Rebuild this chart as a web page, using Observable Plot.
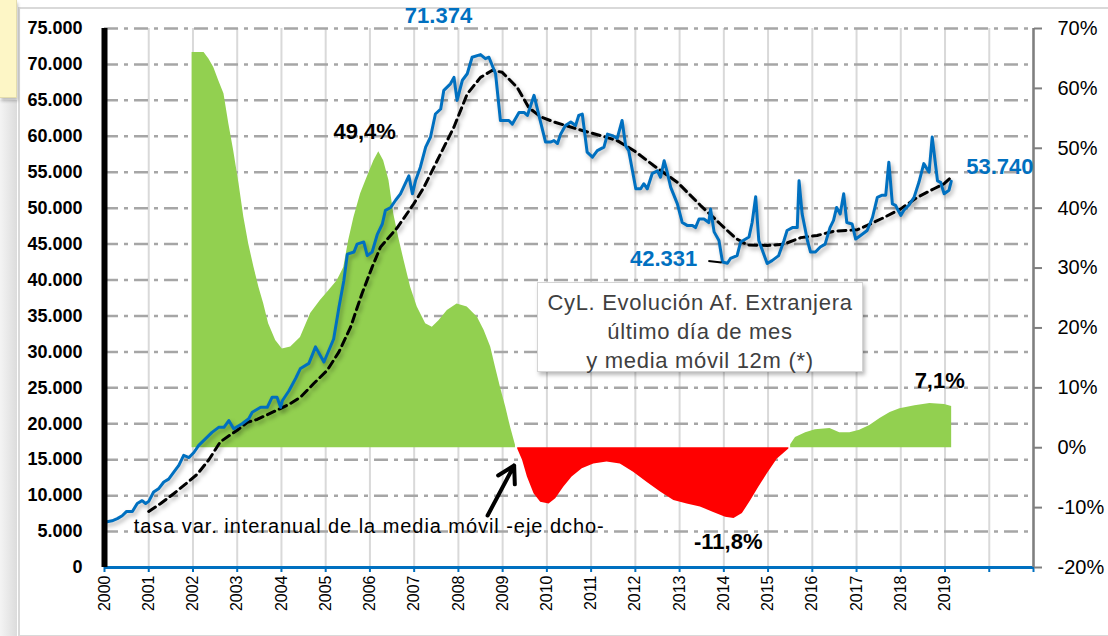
<!DOCTYPE html>
<html>
<head>
<meta charset="utf-8">
<script src="https://cdn.jsdelivr.net/npm/d3@7"></script>
<script src="https://cdn.jsdelivr.net/npm/@observablehq/plot@0.6"></script>
<style>
  body { margin:0; background:#fff; font-family:"Liberation Sans", Arial, sans-serif; }
  #wrap { position:relative; width:1108px; height:636px; overflow:hidden; background:#fff; }
  #yellow { position:absolute; left:0; top:0; width:16px; height:97px; background:#fdf6c6; border-right:1px solid #e3dcae; border-bottom:1px solid #e3dcae; box-shadow:1px 3px 3px rgba(0,0,0,0.25); z-index:3; }
  #strip { position:absolute; left:0; top:100px; width:17px; height:536px; background:linear-gradient(to right,#f4f4f4,#dcdcdc); }
  #frame { position:absolute; left:18px; top:7px; width:1100px; height:626px; border:2px solid #d9d9d9; background:#fff; }
  #chart { position:absolute; left:0; top:0; }
  #note { position:absolute; left:537px; top:282px; width:326px; height:90px; background:#fff; border:1px solid #d4d4d4; box-shadow:2px 3px 4px rgba(0,0,0,0.28); color:#404040; font-size:22px; letter-spacing:0.7px; line-height:29px; text-align:center; padding-top:5px; box-sizing:border-box; z-index:2; white-space:nowrap; }
</style>
</head>
<body>
<div id="wrap">
  <div id="strip"></div>
  <div id="frame"></div>
  <div id="yellow"></div>
  <div id="chart"></div>
  <div id="note">CyL. Evolución Af. Extranjera<br>último día de mes<br>y media móvil 12m (*)</div>
</div>
<script>
// ---- axis ticks ----
const yearTicks = [2000,2001,2002,2003,2004,2005,2006,2007,2008,2009,2010,2011,2012,2013,2014,2015,2016,2017,2018,2019,2020,2021];
const leftTicks = [0,5000,10000,15000,20000,25000,30000,35000,40000,45000,50000,55000,60000,65000,70000,75000];
const pctTicks = [-20,-10,0,10,20,30,40,50,60,70];

// ---- monthly stock, last day of month [year, value] ----
const stockSeries = [
[2000.00,6300],[2000.17,6500],[2000.29,6800],[2000.40,7200],[2000.50,7800],[2000.63,7800],[2000.74,8900],[2000.85,9300],[2000.93,8900],
[2001.00,9200],[2001.11,10500],[2001.23,11000],[2001.34,11900],[2001.45,12300],[2001.57,13300],[2001.68,14200],[2001.79,15600],[2001.91,15300],
[2002.02,16000],[2002.13,17000],[2002.28,17900],[2002.43,18800],[2002.58,19500],[2002.70,19500],[2002.81,20450],[2002.92,19300],
[2003.11,20000],[2003.26,20700],[2003.34,21600],[2003.53,22300],[2003.68,22300],[2003.79,23700],[2003.90,23700],[2003.98,22300],
[2004.02,23200],[2004.17,24600],[2004.32,26300],[2004.43,27700],[2004.62,28400],[2004.77,30700],[2004.96,28600],
[2005.18,31800],[2005.30,36200],[2005.41,39900],[2005.49,43600],[2005.64,43900],[2005.71,45000],[2005.86,45300],[2005.94,43400],
[2006.05,43900],[2006.17,46400],[2006.28,47800],[2006.35,49700],[2006.47,50100],[2006.58,51100],[2006.69,52000],[2006.88,54500],[2006.96,52000],
[2007.03,53800],[2007.14,55700],[2007.26,58500],[2007.37,59900],[2007.48,63100],[2007.60,63800],[2007.67,66400],[2007.82,67300],[2007.90,68200],[2007.97,65000],
[2008.09,67800],[2008.20,68700],[2008.31,71000],[2008.50,71374],[2008.61,70800],[2008.69,71000],[2008.84,68700],[2008.95,62200],
[2009.14,62200],[2009.22,61700],[2009.37,63300],[2009.49,63300],[2009.56,62900],[2009.71,65700],[2009.82,62900],[2009.97,59200],
[2010.08,59200],[2010.16,59400],[2010.24,59000],[2010.31,60300],[2010.42,61500],[2010.54,62000],[2010.65,61500],[2010.72,62900],[2010.80,63100],[2010.91,57800],
[2011.03,57100],[2011.14,58000],[2011.29,58500],[2011.37,60300],[2011.48,60100],[2011.59,59700],[2011.70,62200],[2011.78,58700],[2011.85,58000],
[2012.01,52700],[2012.12,52700],[2012.19,53400],[2012.27,52700],[2012.38,54800],[2012.50,55200],[2012.57,54300],[2012.65,56600],[2012.72,55000],[2012.80,52900],[2012.95,50600],
[2013.06,48000],[2013.17,47600],[2013.29,47600],[2013.36,47300],[2013.44,48500],[2013.55,48500],[2013.66,48000],[2013.70,49900],[2013.78,46700],[2013.89,45500],[2013.97,42500],
[2014.08,42331],[2014.15,43000],[2014.30,43400],[2014.38,45300],[2014.57,46000],[2014.64,48000],[2014.72,51600],[2014.79,45500],[2014.98,42300],
[2015.09,42700],[2015.24,43400],[2015.36,45500],[2015.43,46900],[2015.55,47300],[2015.66,47300],[2015.70,53800],[2015.77,49200],[2015.89,45500],[2015.96,43900],
[2016.07,43900],[2016.18,44600],[2016.29,45000],[2016.40,47300],[2016.48,48300],[2016.55,50100],[2016.63,49200],[2016.71,52000],[2016.78,48000],[2016.90,47800],[2016.98,45700],
[2017.09,46200],[2017.24,46900],[2017.36,48700],[2017.47,51500],[2017.58,51800],[2017.66,51800],[2017.73,56400],[2017.81,50600],[2017.88,50400],
[2018.00,49000],[2018.07,49700],[2018.18,50400],[2018.30,51500],[2018.41,53600],[2018.52,56200],[2018.64,55000],[2018.71,59900],[2018.83,53800],[2018.90,53600],[2018.98,52000],
[2019.09,52500],[2019.14,53740]
];

// ---- 12-month moving average [year, value] ----
const movingAvg = [
[2001.00,7800],[2001.27,8900],[2001.57,10300],[2001.87,11800],[2002.10,13000],[2002.36,15000],[2002.62,17500],
[2003.00,19100],[2003.23,20200],[2003.45,20600],[2003.90,21900],[2004.20,22800],[2004.43,23700],[2004.73,25600],
[2005.03,27400],[2005.30,30000],[2005.56,33400],[2005.82,38100],[2006.05,41800],[2006.24,44600],[2006.62,47300],
[2006.99,50600],[2007.22,52900],[2007.60,57600],[2007.90,61300],[2008.20,65900],[2008.50,68200],[2008.77,69200],
[2008.99,68900],[2009.33,66800],[2009.59,64000],[2009.86,62700],[2010.16,62000],[2010.69,61000],[2011.21,60100],
[2011.59,59400],[2011.97,58000],[2012.42,55900],[2012.95,53600],[2013.47,50400],[2013.92,47800],[2014.27,45800],
[2014.53,44900],[2014.98,44800],[2015.36,45000],[2015.74,45900],[2016.11,46200],[2016.49,46800],[2017.02,47000],
[2017.24,47600],[2017.62,48700],[2018.00,49900],[2018.37,51500],[2018.75,52700],[2018.98,53400],[2019.14,54300]
];

// ---- year-on-year rate of the moving average, % (right axis) ----
const rateRise = [
[2001.98,66.0],[2002.25,66.0],[2002.36,64.9],[2002.47,63.5],[2002.58,61.3],[2002.70,59.1],[2002.81,54.1],[2002.92,49.6],
[2003.04,44.1],[2003.15,38.5],[2003.26,34.0],[2003.38,30.1],[2003.49,26.8],[2003.60,24.0],[2003.71,20.7],[2003.87,17.9],
[2004.02,16.5],[2004.21,16.8],[2004.43,18.4],[2004.66,22.4],[2004.88,24.6],[2005.07,26.2],[2005.26,27.9],[2005.41,30.1],
[2005.52,34.6],[2005.64,38.5],[2005.79,42.4],[2005.94,45.2],[2006.09,47.9],[2006.20,49.4],[2006.31,47.9],[2006.43,44.6],
[2006.54,39.0],[2006.65,35.1],[2006.77,31.3],[2006.92,26.8],[2007.07,23.5],[2007.26,20.7],[2007.41,20.1],[2007.56,21.2],
[2007.75,22.9],[2007.97,24.0],[2008.20,23.5],[2008.43,21.8],[2008.58,19.6],[2008.73,16.8],[2008.84,13.4],[2008.95,10.1],
[2009.07,6.8],[2009.18,3.4],[2009.29,0.4]
];
const rateFall = [
[2009.34,-0.2],[2009.45,-2.1],[2009.56,-4.9],[2009.71,-7.7],[2009.86,-9.1],[2010.05,-9.4],[2010.20,-8.5],[2010.38,-6.6],
[2010.57,-4.9],[2010.80,-3.5],[2011.06,-2.7],[2011.36,-2.4],[2011.66,-2.7],[2011.96,-4.1],[2012.27,-5.8],[2012.57,-7.4],
[2012.87,-8.8],[2013.17,-9.4],[2013.47,-9.9],[2013.77,-10.8],[2014.04,-11.6],[2014.23,-11.8],[2014.42,-11.0],[2014.61,-8.8],
[2014.79,-6.6],[2014.98,-4.4],[2015.21,-1.9],[2015.47,-0.2]
];
const rateRecovery = [
[2015.51,0.5],[2015.62,1.7],[2015.85,2.5],[2016.07,3.0],[2016.40,3.2],[2016.62,2.5],[2016.85,2.5],[2017.07,2.9],
[2017.30,3.7],[2017.53,4.9],[2017.76,5.9],[2017.98,6.5],[2018.32,7.0],[2018.66,7.4],[2018.99,7.2],[2019.15,6.9]
];

const pctMin = pctTicks[0], pctMax = pctTicks[pctTicks.length - 1];
const leftMax = leftTicks[leftTicks.length - 1];
const toLeft = p => (p - pctMin) / (pctMax - pctMin) * leftMax;
const fromLeft = v => Math.round(v / leftMax * (pctMax - pctMin) + pctMin);
const zeroLevel = toLeft(0);
const thousands = v => v === 0 ? "0" : d3.format(",")(v).replace(/,/g, ".");

const blue = "#0070c0";
const font = "Liberation Sans, Arial, sans-serif";
const noteText = "tasa var. interanual de la media móvil -eje dcho-";

const chart = Plot.plot({
  width: 1108, height: 636,
  marginLeft: 104, marginRight: 75, marginTop: 28, marginBottom: 69,
  x: {domain: [yearTicks[0], yearTicks[yearTicks.length - 1]], label: null},
  y: {domain: [leftTicks[0], leftMax], label: null},
  style: {fontFamily: font, background: "transparent", overflow: "visible"},
  marks: [
    Plot.ruleX(yearTicks, {stroke: "#d9d9d9", strokeWidth: 2}),
    Plot.ruleY(leftTicks.slice(1), {stroke: "#a6a6a6", strokeWidth: 2.5, strokeDasharray: "14,6,4,6"}),
    Plot.areaY(rateRise, {x: d => d[0], y1: () => zeroLevel, y2: d => toLeft(d[1]), fill: "#92d050"}),
    Plot.areaY(rateFall, {x: d => d[0], y1: () => zeroLevel, y2: d => toLeft(d[1]), fill: "#ff0000"}),
    Plot.areaY(rateRecovery, {x: d => d[0], y1: () => zeroLevel, y2: d => toLeft(d[1]), fill: "#92d050"}),
    Plot.line(movingAvg, {x: d => d[0], y: d => d[1], stroke: "#000", strokeWidth: 3, strokeDasharray: "8,5"}),
    Plot.line(stockSeries, {x: d => d[0], y: d => d[1], stroke: blue, strokeWidth: 3}),
    // axes
    Plot.axisX(yearTicks, {anchor: "bottom", tickRotate: -90, tickSize: 5, tickPadding: 3, stroke: blue, strokeWidth: 2,
      fill: "#000", fontSize: 16, tickFormat: d => d <= 2019 ? String(d) : ""}),
    Plot.axisY(leftTicks, {anchor: "left", tickSize: 0, tickPadding: 22, fontSize: 18, fontWeight: "bold",
      fill: "#000", tickFormat: thousands}),
    Plot.axisY(pctTicks.map(toLeft), {anchor: "right", tickSize: 8, tickPadding: 16, stroke: "#7f7f7f", strokeWidth: 2,
      fontSize: 20, fill: "#000", tickFormat: v => fromLeft(v) + "%"}),
    Plot.ruleY([leftTicks[0]], {stroke: blue, strokeWidth: 3}),
    Plot.ruleX([yearTicks[yearTicks.length - 1]], {stroke: "#7f7f7f", strokeWidth: 2.5}),
    Plot.ruleX([yearTicks[0]], {stroke: "#000", strokeWidth: 6}),
    // annotations
    Plot.text(["71.374"], {x: 2007.55, y: 76800, text: d => d, fill: blue, fontSize: 22, fontWeight: "bold"}),
    Plot.text(["42.331"], {x: 2012.64, y: 42925, text: d => d, fill: blue, fontSize: 22, fontWeight: "bold"}),
    Plot.text(["53.740"], {x: 2020.24, y: 55795, text: d => d, fill: blue, fontSize: 22, fontWeight: "bold"}),
    Plot.link([0], {x1: 2013.65, y1: 42650, x2: 2013.95, y2: 42450, stroke: "#000", strokeWidth: 2}),
    Plot.text(["49,4%"], {x: 2005.88, y: 60670, text: d => d, fill: "#000", fontSize: 22, fontWeight: "bold"}),
    Plot.text(["7,1%"], {x: 2018.88, y: 26020, text: d => d, fill: "#000", fontSize: 22, fontWeight: "bold"}),
    Plot.text(["-11,8%"], {x: 2014.10, y: 3618, text: d => d, fill: "#000", fontSize: 22, fontWeight: "bold"}),
    Plot.text([noteText], {x: 2000.66, y: 5705, text: d => d, textAnchor: "start", fill: "#000", fontSize: 20}),
    Plot.arrow([0], {x1: 2008.66, y1: 7235, x2: 2009.26, y2: 14200, stroke: "#000", strokeWidth: 4, headLength: 14})
  ]
});

// soft shadow on the lines, as in the original
chart.querySelectorAll('g[aria-label="line"]').forEach(g => g.style.filter = "drop-shadow(2px 3px 2px rgba(0,0,0,0.3))");
// spread the axis note over the same width as the original
chart.querySelectorAll("text").forEach(t => {
  if (t.textContent === noteText) { t.setAttribute("textLength", 470); t.setAttribute("lengthAdjust", "spacing"); }
});
document.getElementById("chart").appendChild(chart);
</script>
</body>
</html>
